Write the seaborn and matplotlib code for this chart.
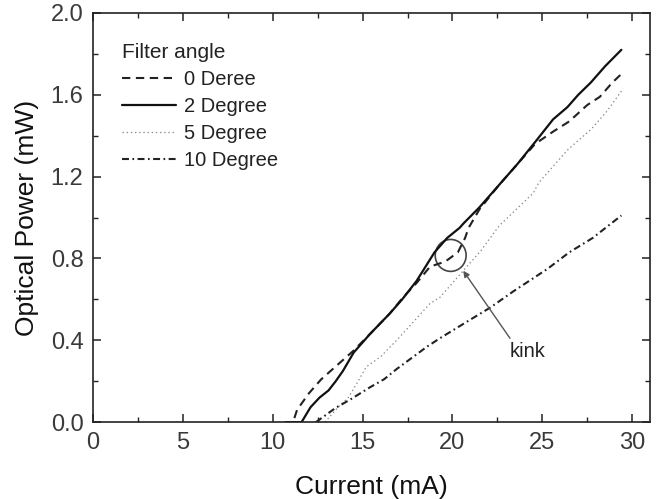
import numpy as np
import pandas as pd
import matplotlib
matplotlib.use("Agg")
import matplotlib.pyplot as plt
from matplotlib.patches import Ellipse
from matplotlib.ticker import MultipleLocator
import seaborn as sns

# ---- data ----
x_0deg = [11.2, 11.35, 12.0, 12.7, 13.6, 14.5, 15.4, 16.5, 17.25, 18.0, 18.75, 19.6, 20.3,
          20.7, 20.9, 21.5, 22.6, 23.6, 24.6, 25.6, 26.5, 27.5, 28.2, 28.9, 29.5]
y_0deg = [0.02, 0.06, 0.14, 0.21, 0.28, 0.35, 0.43, 0.53, 0.61, 0.68, 0.76, 0.785, 0.83,
          0.90, 0.95, 1.04, 1.16, 1.26, 1.36, 1.42, 1.47, 1.55, 1.59, 1.66, 1.71]

x_2deg = [10.7, 11.6, 12.1, 12.6, 13.1, 13.5, 13.9, 14.5, 15.4, 16.5, 17.2, 18.0, 19.0,
          19.7, 20.4, 20.6, 21.5, 22.6, 23.6, 24.7, 25.6, 26.4, 27.0, 27.7, 28.5, 29.4]
y_2deg = [0.0, 0.0, 0.073, 0.12, 0.155, 0.20, 0.25, 0.34, 0.43, 0.53, 0.60, 0.69, 0.83,
          0.90, 0.95, 0.97, 1.05, 1.16, 1.26, 1.38, 1.48, 1.54, 1.60, 1.66, 1.74, 1.82]

x_5deg = [12.9, 13.6, 14.2, 14.75, 15.2, 16.0, 17.0, 18.75, 19.3, 20.6, 21.6, 22.6, 24.5,
          24.8, 26.4, 27.7, 28.6, 29.5]
y_5deg = [0.0, 0.07, 0.12, 0.20, 0.27, 0.32, 0.41, 0.58, 0.61, 0.74, 0.84, 0.96, 1.12,
          1.17, 1.33, 1.43, 1.52, 1.63]

x_10deg = [12.4, 13.5, 14.3, 15.4, 16.2, 16.9, 18.6, 19.3, 20.6, 22.1, 23.4, 25.3, 26.5,
           27.8, 29.4]
y_10deg = [0.0, 0.07, 0.11, 0.17, 0.21, 0.26, 0.37, 0.41, 0.48, 0.56, 0.64, 0.75, 0.83,
           0.90, 1.01]

labels = ["0 Deree", "2 Degree", "5 Degree", "10 Degree"]

sns.set_style("ticks")
plt.rcParams["font.family"] = ["Liberation Sans", "DejaVu Sans"]
plt.rcParams["lines.scale_dashes"] = False

fig = plt.figure(figsize=(6.56, 4.99), dpi=100)
ax = fig.add_axes([0.142, 0.154, 0.849, 0.820])

# draw each curve
sns.lineplot(x=x_0deg, y=y_0deg, ax=ax, color="#222222", lw=1.5,
             linestyle=(0, (6, 4)), label=labels[0])
sns.lineplot(x=x_2deg, y=y_2deg, ax=ax, color="#111111", lw=1.6,
             linestyle="-", label=labels[1])
sns.lineplot(x=x_5deg, y=y_5deg, ax=ax, color="#888888", lw=0.9,
             linestyle=(0, (1, 2)), label=labels[2])
sns.lineplot(x=x_10deg, y=y_10deg, ax=ax, color="#222222", lw=1.5,
             linestyle=(0, (5, 2.5, 1.2, 2.5)), label=labels[3])

ax.set_xlim(0, 31)
ax.set_ylim(0, 2.0)
ax.xaxis.set_major_locator(MultipleLocator(5))
ax.xaxis.set_minor_locator(MultipleLocator(2.5))
ax.yaxis.set_major_locator(MultipleLocator(0.4))
ax.yaxis.set_minor_locator(MultipleLocator(0.2))
ax.yaxis.set_major_formatter(matplotlib.ticker.FormatStrFormatter("%.1f"))

ax.tick_params(which="both", direction="in", top=True, right=True,
               labelsize=17, labelcolor="#3a3a3a", color="#222222", pad=7)
ax.tick_params(which="major", length=6, width=1.1)
ax.tick_params(which="minor", length=3.5, width=1.0)
for sp in ax.spines.values():
    sp.set_linewidth(1.2)
    sp.set_color("#222222")

ax.set_xlabel("Current (mA)", fontsize=19, color="#111111", labelpad=15)
ax.set_ylabel("Optical Power (mW)", fontsize=19, color="#111111", labelpad=8)

leg = ax.legend(title="Filter angle", loc="upper left", bbox_to_anchor=(0.052, 0.926),
                frameon=False, fontsize=14.5, title_fontsize=15, handlelength=2.7,
                handletextpad=0.35, labelspacing=0.40, borderpad=0, borderaxespad=0,
                alignment="left")
for t in leg.get_texts():
    t.set_color("#222222")
leg.get_title().set_color("#222222")

# kink marker
ax.add_patch(Ellipse((19.9, 0.815), 1.72, 0.156, fill=False, lw=1.2, ec="#444444"))
ax.annotate("", xy=(20.6, 0.74), xytext=(23.2, 0.41),
            arrowprops=dict(arrowstyle="-|>", color="#555555", lw=1.0, mutation_scale=9,
                            shrinkA=0, shrinkB=0))
ax.text(23.2, 0.32, "kink", fontsize=14.5, color="#222222", ha="left", va="baseline")

fig.savefig("out.png", dpi=100)
